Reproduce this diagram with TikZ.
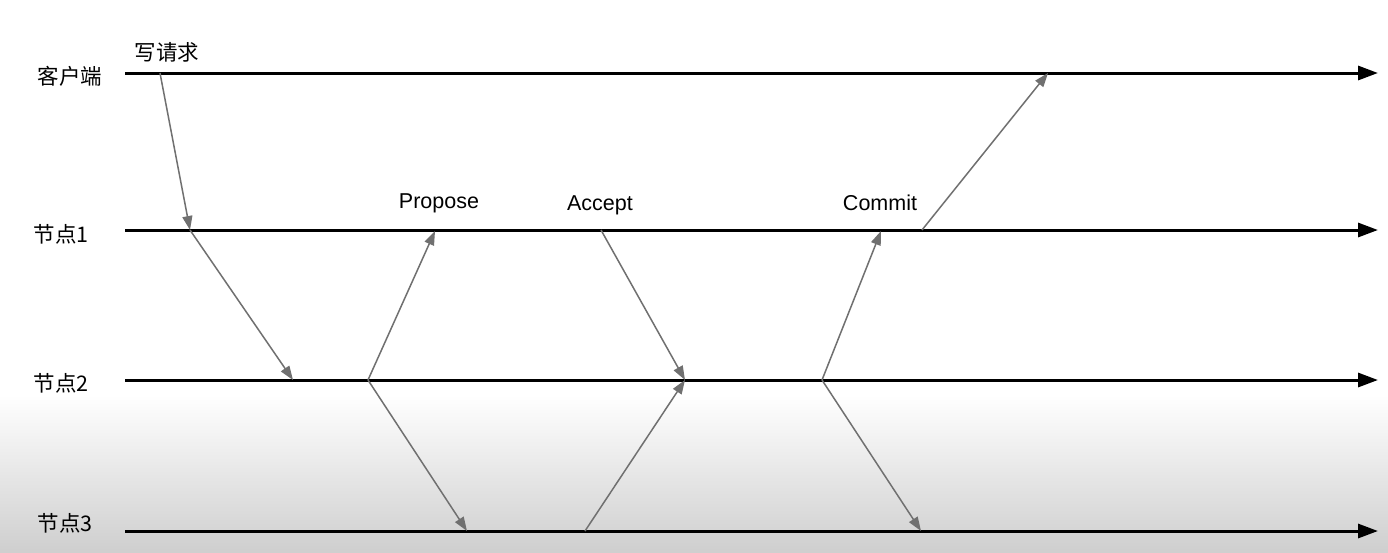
\documentclass[tikz,border=0pt]{standalone}
\usepackage{fontspec}
\setmainfont{Liberation Sans}
\newfontfamily\cjk{Noto Sans CJK SC}
\usepackage{xcolor}
\usepackage{tikz}
\usetikzlibrary{positioning}
\usetikzlibrary{arrows.meta}
\definecolor{msggray}{HTML}{707070}
\tikzstyle{timeline}=[draw,black,line width=3pt,-{Triangle[length=20pt,width=14pt]}]
\tikzstyle{msg}=[draw,msggray,line width=1.5pt,-{Triangle[length=14pt,width=10pt]}]
\tikzstyle{lane}=[inner sep=0pt,font=\cjk\fontsize{21.5}{21.5}\selectfont]
\tikzstyle{phase}=[inner sep=0pt,font=\fontsize{21.5}{21.5}\selectfont]

\begin{document}
\begin{tikzpicture}[x=1pt,y=-1pt]

 \useasboundingbox (0,0) rectangle (1388,552);
 \fill[white] (0,0) rectangle (1388,552);
 \fill[top color=white, bottom color=black!19] (0,395) rectangle (1388,552);

 %lanes
 \foreach \y/\name/\label/\lx/\ly in {73/client/客户端/70/76, 230/n1/节点1/61/234, 380/n2/节点2/61/383, 531/n3/节点3/65/523}
 {
   \node[lane] (\name) at (\lx,\ly) {\label};
   \coordinate (\name s) at (125,\y);
   \coordinate (\name e) at (1378,\y);
   \path[timeline] (\name s) -- (\name e);
 }

 %events
 \foreach \x/\y/\name in {160/73/c1, 1048/73/c2,
                          190/230/a1, 435/231/a2, 601/230/a3, 881/231/a4, 922/230/a5,
                          293/380/b1, 368/380/b2, 685/380/b3, 822/380/b4,
                          467/531/d1, 585/531/d2, 921/531/d3}
   \coordinate (\name) at (\x,\y);

 \foreach \source/\dest in {c1/a1, a1/b1, b2/a2, b2/d1, a3/b3, d2/b3, b4/a4, b4/d3, a5/c2}
   \path[msg] (\source) -- (\dest);

 %phases
 \node[lane] (req) at (167,52) {写请求};
 \node[phase] (propose) at (439,203) {Propose};
 \node[phase] (accept) at (600,205) {Accept};
 \node[phase] (commit) at (880,203) {Commit};

\end{tikzpicture}
\end{document}
